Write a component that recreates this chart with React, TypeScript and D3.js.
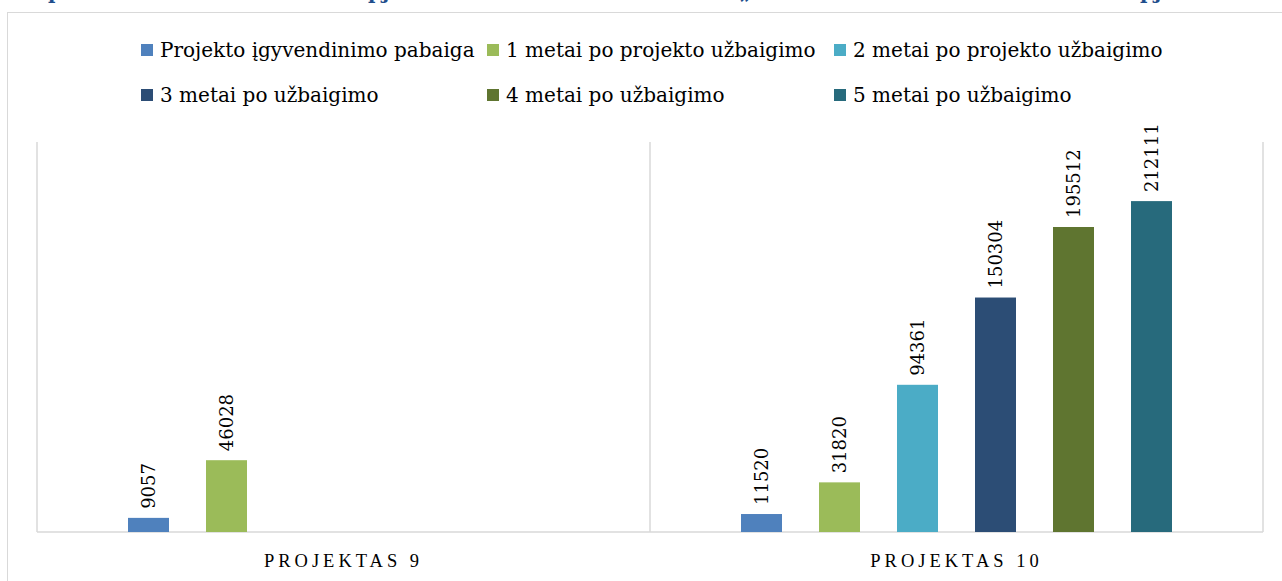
import React from "react";
import * as d3 from "d3";

const categories = ["PROJEKTAS 9", "PROJEKTAS 10"];
const seriesNames = [
  "Projekto įgyvendinimo pabaiga",
  "1 metai po projekto užbaigimo",
  "2 metai po projekto užbaigimo",
  "3 metai po užbaigimo",
  "4 metai po užbaigimo",
  "5 metai po užbaigimo",
];
const seriesColors = ["#4F81BD", "#9BBB59", "#4BACC6", "#2C4D75", "#5F7530", "#276A7C"];
// values per series: [Projektas 9, Projektas 10]
const s0 = [9057, 11520];
const s1 = [46028, 31820];
const s2 = [null, 94361];
const s3 = [null, 150304];
const s4 = [null, 195512];
const s5 = [null, 212111];
const seriesValues = [s0, s1, s2, s3, s4, s5];
const yMax = 250000;

const FONT = "'DejaVu Serif', serif";
const FONT_CAT = "'Liberation Serif', serif";

export default function App() {
  const W = 1282, H = 581;
  const plotL = 37, plotR = 1263, plotT = 142, plotB = 532;
  const x = d3.scaleBand().domain(categories).range([plotL, plotR]).paddingInner(0).paddingOuter(0);
  const y = d3.scaleLinear().domain([0, yMax]).range([plotB, plotT]);
  const inner = d3.scaleBand().domain(seriesNames).range([0, 468]).paddingInner(37 / 78).paddingOuter(37 / 78 / 2);
  const groupOffset = (x.bandwidth() - 468) / 2;
  const bw = inner.bandwidth();

  const legendCols = [141, 487, 834];
  const legendRows = [50, 95];

  return (
    <svg width={W} height={H} style={{ position: "absolute", left: 0, top: 0, background: "#fff" }}>
      {/* cut-off title descenders */}
      <g fill="#1F4E8C" fontFamily={FONT} fontWeight="bold" fontSize={20}>
        <text x={48} y={-1}>p</text>
        <text x={368} y={-1}>pj</text>
        <text x={740} y={-1}>„</text>
        <text x={1140} y={-1}>pj</text>
      </g>
      {/* outer frame */}
      <rect x={7.5} y={12.5} width={W} height={H} fill="#fff" stroke="#D9D9D9" strokeWidth={1} />
      {/* legend */}
      {seriesNames.map((n, i) => {
        const cx = legendCols[i % 3];
        const cy = legendRows[Math.floor(i / 3)];
        return (
          <g key={n}>
            <rect x={cx} y={cy - 6} width={12} height={12} fill={seriesColors[i]} />
            <text x={cx + 19} y={cy} dy="0.35em" fontFamily={FONT} fontSize={20} fill="#000">{n}</text>
          </g>
        );
      })}
      {/* category boundary lines */}
      {[plotL, plotL + x.bandwidth(), plotR].map((lx, i) => (
        <line key={i} x1={lx} x2={lx} y1={plotT} y2={plotB} stroke="#D9D9D9" strokeWidth={1.5} />
      ))}
      <line x1={plotL} x2={plotR} y1={plotB} y2={plotB} stroke="#D9D9D9" strokeWidth={1.5} />
      {/* bars */}
      {seriesValues.map((vals, si) =>
        vals.map((v, ci) => {
          if (v == null) return null;
          const bx = (x(categories[ci]) as number) + groupOffset + (inner(seriesNames[si]) as number);
          const by = y(v);
          return (
            <g key={si + "-" + ci}>
              <rect x={bx} y={by} width={bw} height={plotB - by} fill={seriesColors[si]} />
              <text
                transform={`translate(${bx + bw / 2},${by - 9}) rotate(-90)`}
                dy="0.35em"
                fontFamily={FONT}
                fontSize={18}
                fill="#000"
              >
                {v}
              </text>
            </g>
          );
        })
      )}
      {/* category labels */}
      {categories.map((c) => (
        <text
          key={c}
          x={(x(c) as number) + x.bandwidth() / 2}
          y={567}
          textAnchor="middle"
          fontFamily={FONT_CAT}
          fontSize={18.5}
          letterSpacing={4}
          fill="#000"
        >
          {c}
        </text>
      ))}
    </svg>
  );
}
